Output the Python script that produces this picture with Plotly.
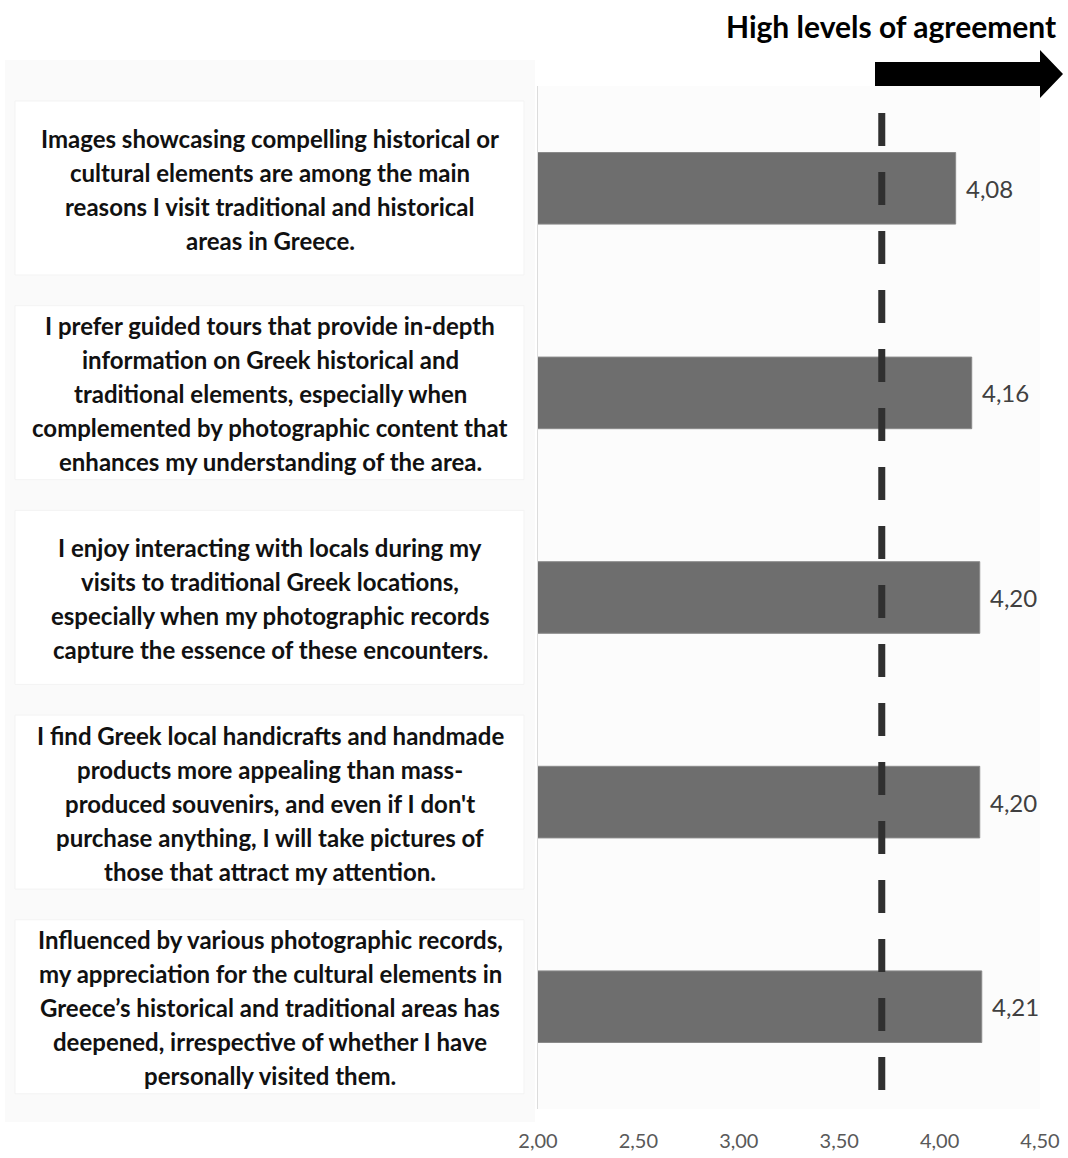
import plotly.graph_objects as go

# ---- data ----
statements = [
    "Images showcasing compelling historical or<br>cultural elements are among the main<br>reasons I visit traditional and historical<br>areas in Greece.",
    "I prefer guided tours that provide in-depth<br>information on Greek historical and<br>traditional elements, especially when<br>complemented by photographic content that<br>enhances my understanding of the area.",
    "I enjoy interacting with locals during my<br>visits to traditional Greek locations,<br>especially when my photographic records<br>capture the essence of these encounters.",
    "I find Greek local handicrafts and handmade<br>products more appealing than mass-<br>produced souvenirs, and even if I don't<br>purchase anything, I will take pictures of<br>those that attract my attention.",
    "Influenced by various photographic records,<br>my appreciation for the cultural elements in<br>Greece\u2019s historical and traditional areas has<br>deepened, irrespective of whether I have<br>personally visited them.",
]
mean_scores = [4.08, 4.16, 4.20, 4.20, 4.21]
x_ticks = [2.0, 2.5, 3.0, 3.5, 4.0, 4.5]
reference_value = 3.712
header_text = "High levels of agreement"

# ---- layout geometry (pixels) ----
W, H = 1068, 1158
L, R, T, B = 538, 28, 86, 49
PW, PH = W - L - R, H - T - B
LINE_H = 34


def px(x):
    return (x - L) / PW


def py(y):
    return (H - B - y) / PH


positions = list(range(len(statements)))

fig = go.Figure()
fig.add_trace(go.Bar(
    x=mean_scores,
    y=positions,
    orientation="h",
    width=0.35,
    marker=dict(color="#6e6e6e", line=dict(color="#8a8a8a", width=1)),
    hoverinfo="skip",
))

shapes = [
    dict(type="rect", xref="paper", yref="paper", x0=px(5), x1=px(535), y0=py(1122), y1=py(60),
         fillcolor="#fafafa", line=dict(width=0), layer="below"),
]
for i in positions:
    cy = py(188 + i * 204.7)
    shapes.append(dict(type="rect", xref="paper", yref="paper",
                       x0=px(15), x1=px(524), y0=cy - 87 / PH, y1=cy + 87 / PH,
                       fillcolor="#ffffff", line=dict(color="#f3f3f3", width=1), layer="below"))

shapes.append(dict(type="line", xref="x", yref="paper", x0=reference_value, x1=reference_value,
                   y0=py(113), y1=py(1093), line=dict(color="#303030", width=7, dash="33px,26px"),
                   layer="above"))
# arrow
ax0, ahead, atip = px(875), px(1040), px(1063)
sy0, sy1, hy0, hy1, ty = py(86), py(62), py(98), py(50), py(74)
shapes.append(dict(type="path", xref="paper", yref="paper",
                   path=f"M {ax0} {sy0} L {ahead} {sy0} L {ahead} {hy0} L {atip} {ty} L {ahead} {hy1} L {ahead} {sy1} L {ax0} {sy1} Z",
                   fillcolor="#000000", line=dict(width=0)))

annotations = []
for i, s in enumerate(statements):
    lines = s.split("<br>")
    n = len(lines)
    for k, line in enumerate(lines):
        annotations.append(dict(xref="paper", yref="y", x=px(270), y=i, text=line, showarrow=False,
                                xanchor="center", yanchor="middle", align="center",
                                yshift=-(k - (n - 1) / 2) * LINE_H - 1,
                                font=dict(family="Lato", size=24, color="#111111", weight="bold")))
for i, v in enumerate(mean_scores):
    annotations.append(dict(xref="x", yref="y", x=v, y=i, text=f"{v:.2f}".replace(".", ","),
                            showarrow=False, xanchor="left", yanchor="middle", xshift=8,
                            font=dict(family="Lato", size=24, color="#404040")))
annotations.append(dict(xref="paper", yref="paper", x=px(1058), y=py(26), text=f"<b>{header_text}</b>",
                        showarrow=False, xanchor="right", yanchor="middle",
                        font=dict(family="Lato", size=30, color="#000000")))

fig.update_layout(
    width=W, height=H, autosize=False,
    margin=dict(l=L, r=R, t=T, b=B, pad=0, autoexpand=False),
    paper_bgcolor="#ffffff", plot_bgcolor="#fcfcfc",
    separators=",.",
    showlegend=False,
    shapes=shapes, annotations=annotations,
    xaxis=dict(range=[2.0, 4.5], tickvals=x_ticks, tickformat=".2f", showgrid=False, zeroline=False,
               ticks="outside", ticklen=14, tickcolor="rgba(0,0,0,0)", automargin=False,
               tickfont=dict(family="Lato", size=20, color="#595959"), showline=False),
    yaxis=dict(range=[len(statements) - 0.5, -0.5], showticklabels=False, showgrid=False, automargin=False,
               zeroline=False, showline=True, linecolor="#dcdcdc", linewidth=1),
)

fig.write_html("out.html")
